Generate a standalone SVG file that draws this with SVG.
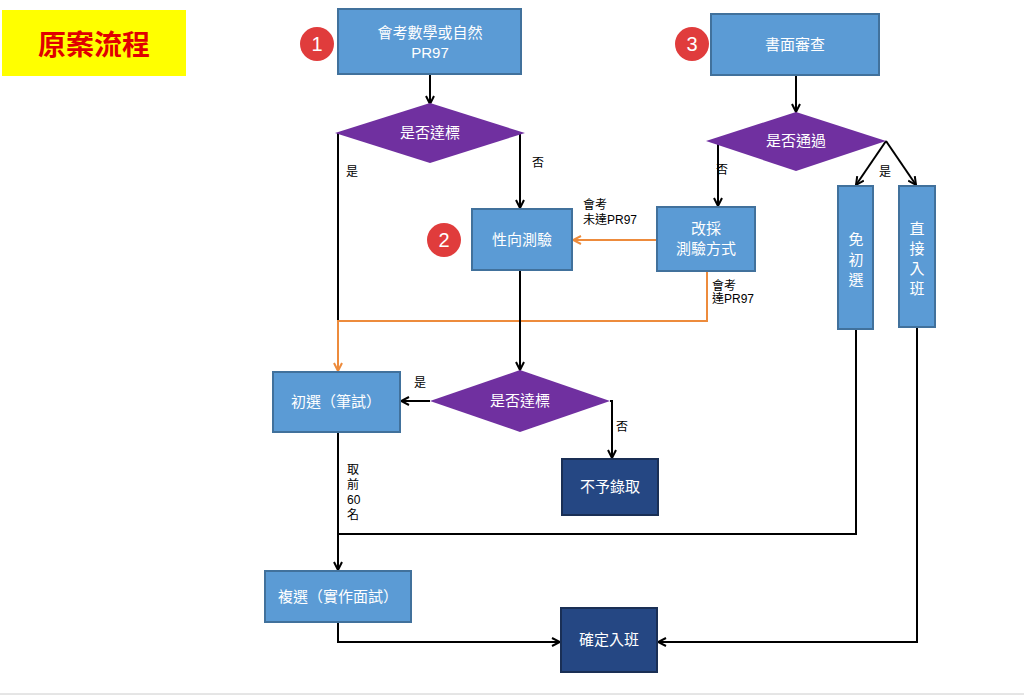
<svg xmlns="http://www.w3.org/2000/svg" width="1024" height="697" viewBox="0 0 1024 697">
<style>
text{font-family:"Liberation Sans","Noto Sans CJK TC",sans-serif}
.b{fill:#5b9bd5;stroke:#41719c;stroke-width:2}
.d{fill:#254783;stroke:#1a2f55;stroke-width:2}
.p{fill:#7030a0}
.w{fill:#fff;font-size:15px;text-anchor:middle}
.l{fill:#000;font-size:12px}
.k{fill:none;stroke:#000;stroke-width:2}
.o{fill:none;stroke:#ed8b3c;stroke-width:2}
.c{fill:#e03c3c}
.n{fill:#fff;font-size:20px;text-anchor:middle}
</style>
<defs>
<marker id="ak" markerWidth="10" markerHeight="10" refX="9" refY="5" orient="auto" markerUnits="userSpaceOnUse"><path d="M1,1L9,5L1,9" fill="none" stroke="#000" stroke-width="2"/></marker>
<marker id="ao" markerWidth="10" markerHeight="10" refX="9" refY="5" orient="auto" markerUnits="userSpaceOnUse"><path d="M1,1L9,5L1,9" fill="none" stroke="#ed8b3c" stroke-width="2"/></marker>
</defs>
<rect width="1024" height="697" fill="#fff"/>
<line x1="0" y1="694" x2="1024" y2="694" stroke="#ccc"/>
<g id="title"><rect x="2" y="10" width="184" height="66" fill="#ffff00"/><text x="94" y="55" font-size="28" fill="#e00000" text-anchor="middle" font-weight="bold">原案流程</text></g>
<g id="connectors">
<path class="k" d="M430,75V104" marker-end="url(#ak)"/>
<path class="k" d="M338,133V321"/>
<path class="o" d="M707,271V321H338V371" marker-end="url(#ao)"/>
<path class="k" d="M520,133V208" marker-end="url(#ak)"/>
<path class="o" d="M657,240H573" marker-end="url(#ao)"/>
<path class="k" d="M796,75V112" marker-end="url(#ak)"/>
<path class="k" d="M718,141V206" marker-end="url(#ak)"/>
<path class="k" d="M886,141L856,185" marker-end="url(#ak)"/>
<path class="k" d="M886,141L916,185" marker-end="url(#ak)"/>
<path class="k" d="M520,270V370" marker-end="url(#ak)"/>
<path class="k" d="M430,401H401" marker-end="url(#ak)"/>
<path class="k" d="M610,401H612V458" marker-end="url(#ak)"/>
<path class="k" d="M338,432V570" marker-end="url(#ak)"/>
<path class="k" d="M856,329V534H338"/>
<path class="k" d="M338,622V642H560" marker-end="url(#ak)"/>
<path class="k" d="M917,327V642H658" marker-end="url(#ak)"/>
<text class="l" x="346" y="176">是</text>
<text class="l" x="532" y="167">否</text>
<text class="l" x="583" y="209">會考</text><text class="l" x="583" y="224">未達PR97</text>
<text class="l" x="712" y="290">會考</text><text class="l" x="712" y="303">達PR97</text>
<text class="l" x="716" y="174">否</text>
<text class="l" x="879" y="176">是</text>
<text class="l" x="414" y="387">是</text>
<text class="l" x="616" y="431">否</text>
<text class="l" x="347" y="474">取</text><text class="l" x="347" y="489">前</text><text class="l" x="347" y="504">60</text><text class="l" x="347" y="519">名</text>
</g>
<g id="n1"><rect class="b" x="338" y="9" width="183" height="65"/><text class="w" x="430" y="38">會考數學或自然</text><text class="w" x="430" y="58">PR97</text></g>
<g id="c1"><circle class="c" cx="317" cy="44" r="17"/><text class="n" x="317" y="51">1</text></g>
<g id="d1"><polygon class="p" points="335,133 430,103 525,133 430,163"/><text class="w" x="430" y="138" font-size="14">是否達標</text></g>
<g id="n3"><rect class="b" x="711" y="14" width="168" height="61"/><text class="w" x="795" y="50">書面審查</text></g>
<g id="c3"><circle class="c" cx="692" cy="44" r="17"/><text class="n" x="692" y="51">3</text></g>
<g id="d2"><polygon class="p" points="706,141 796,112 886,141 796,171"/><text class="w" x="796" y="146" font-size="14">是否通過</text></g>
<g id="n2"><rect class="b" x="472" y="209" width="100" height="61"/><text class="w" x="522" y="245">性向測驗</text></g>
<g id="c2"><circle class="c" cx="444" cy="240" r="17"/><text class="n" x="444" y="247">2</text></g>
<g id="alt"><rect class="b" x="657" y="207" width="98" height="64"/><text class="w" x="706" y="234">改採</text><text class="w" x="706" y="254">測驗方式</text></g>
<g id="skip"><rect class="b" x="838" y="186" width="35" height="143"/><text class="w" x="856" y="245">免</text><text class="w" x="856" y="265">初</text><text class="w" x="856" y="285">選</text></g>
<g id="direct"><rect class="b" x="899" y="186" width="36" height="141"/><text class="w" x="917" y="234">直</text><text class="w" x="917" y="254">接</text><text class="w" x="917" y="274">入</text><text class="w" x="917" y="294">班</text></g>
<g id="d3"><polygon class="p" points="430,401 520,370 610,401 520,432"/><text class="w" x="520" y="406" font-size="14">是否達標</text></g>
<g id="pre"><rect class="b" x="273" y="372" width="127" height="60"/><text class="w" x="336" y="407">初選（筆試）</text></g>
<g id="rej"><rect class="d" x="562" y="459" width="96" height="56"/><text class="w" x="610" y="492">不予錄取</text></g>
<g id="re"><rect class="b" x="265" y="571" width="146" height="51"/><text class="w" x="338" y="602">複選（實作面試）</text></g>
<g id="final"><rect class="d" x="561" y="608" width="96" height="64"/><text class="w" x="609" y="645">確定入班</text></g>
</svg>
